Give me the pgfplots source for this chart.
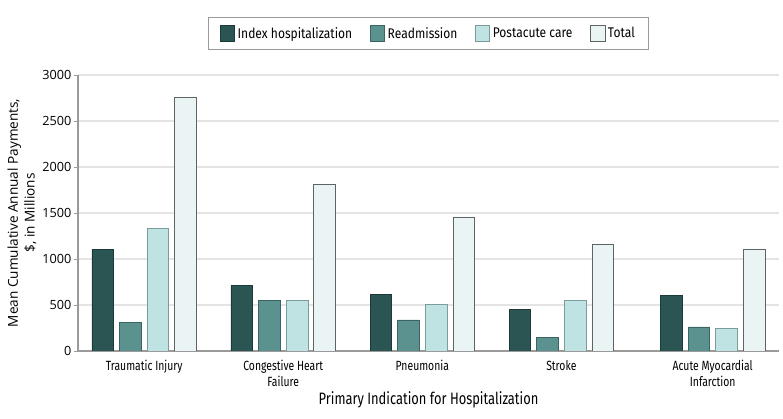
\documentclass[border=0pt]{standalone}
\usepackage{fontspec}
\setmainfont{Fira Sans}[FakeStretch=0.86]
\newfontfamily\condfont{Fira Sans}[FakeStretch=0.78]
\newfontfamily\numfont{Open Sans}
\usepackage{pgfplots}
\pgfplotsset{compat=1.18}

\definecolor{cIdx}{HTML}{2B5553}
\definecolor{cIdxE}{HTML}{1C3A39}
\definecolor{cRea}{HTML}{5B918E}
\definecolor{cReaE}{HTML}{3B6563}
\definecolor{cPost}{HTML}{BFE3E3}
\definecolor{cPostE}{HTML}{7E9B9B}
\definecolor{cTot}{HTML}{EAF4F5}
\definecolor{cTotE}{HTML}{5E6464}
\definecolor{cGrid}{HTML}{E4E4E4}
\definecolor{cAxis}{HTML}{9A9A9A}

\begin{document}
\begin{tikzpicture}
\begin{axis}[name=ax, scale only axis, width=525.75pt, height=207pt,
  xmin=-0.476, xmax=4.565, ymin=0, ymax=3000,
  axis x line*=bottom, axis y line*=left,
  axis line style={-, draw=cAxis, line width=0.9pt},
  xtick={0,1,2,3,4.088},
  xticklabels={Traumatic Injury,{Congestive Heart\\Failure},Pneumonia,Stroke,{Acute Myocardial\\Infarction}},
  xticklabel style={align=center, font=\condfont\fontsize{10}{12}\selectfont, yshift=-0.5pt},
  x tick style={draw=none},
  ytick={0,500,...,3000},
  y tick style={draw=cAxis, line width=0.7pt},
  tick align=outside, major tick length=3pt,
  yticklabel style={font=\numfont\fontsize{9.5}{11}\selectfont, xshift=1.5pt},
  /pgf/number format/.cd, 1000 sep={}, assume math mode=true, /pgfplots/.cd,
  ymajorgrids, grid style={draw=cGrid, line width=1.1pt},
  ylabel={Mean Cumulative Annual Payments,\\\$, in Millions},
  ylabel style={align=center, font=\numfont\fontsize{10.2}{12.5}\selectfont, at={(axis description cs:-0.080,0.5)}, anchor=center},
  xlabel={Primary Indication for Hospitalization},
  xlabel style={font=\condfont\fontsize{12.4}{14}\selectfont, at={(axis description cs:0.5,-0.1775)}, anchor=center},
  legend columns=4,
  legend style={at={(0.5,1.150)}, anchor=center, draw=cAxis, line width=0.8pt,
    font=\fontsize{10.5}{12}\selectfont, inner xsep=8pt, inner ysep=5pt,
    /tikz/every even column/.append style={column sep=11pt}},
  legend image code/.code={\draw[#1, line width=0.6pt] (0pt,-5.5pt) rectangle (11pt,6.5pt);},
]
\addplot[ybar, bar width=0.156, bar shift=-0.298, fill=cIdx, draw=cIdxE, line width=0.6pt]
  coordinates {(0,1105) (1,710) (2,616) (3,453) (4.088,605)};
\addplot[ybar, bar width=0.156, bar shift=-0.0993, fill=cRea, draw=cReaE, line width=0.6pt]
  coordinates {(0,315) (1,551) (2,337) (3,152) (4.088,261)};
\addplot[ybar, bar width=0.156, bar shift=0.0993, fill=cPost, draw=cPostE, line width=0.6pt]
  coordinates {(0,1333) (1,554) (2,507) (3,551) (4.088,247)};
\addplot[ybar, bar width=0.156, bar shift=0.298, fill=cTot, draw=cTotE, line width=0.6pt]
  coordinates {(0,2757) (1,1812) (2,1457) (3,1160) (4.088,1109)};
\legend{Index hospitalization,Readmission,Postacute care,Total}
\end{axis}
\pgfresetboundingbox
\path ([shift={(-58.5pt,-51pt)}]ax.south west) rectangle ([shift={(3pt,56.25pt)}]ax.north east);
\end{tikzpicture}
\end{document}
